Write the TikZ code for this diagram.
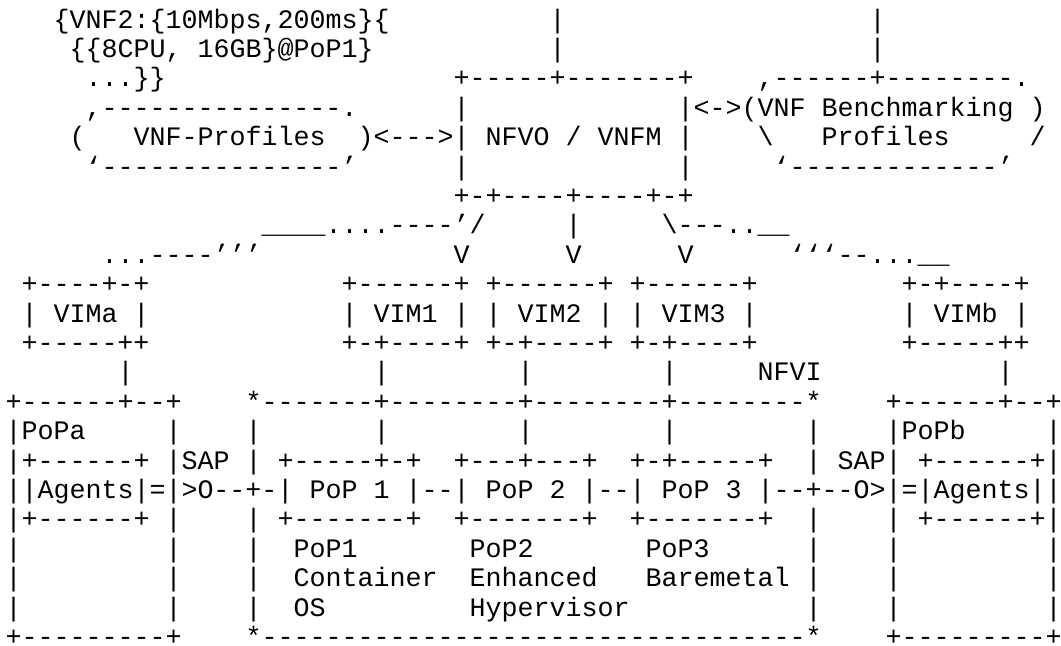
\documentclass[tikz,border=0pt]{standalone}
\usepackage{fontspec}
\setmonofont{Liberation Mono}
\tikzset{asc/.style={font=\ttfamily\fontsize{20}{20}\selectfont\frenchspacing, anchor=base west, inner sep=0pt, outer sep=0pt, text=black},
  flat/.style={text depth=0pt}}
\newcommand\Tx[4]{\node[asc] (#1) at ({5.5+16*(#3)},{28+29.4*((#2)-1)}) {#4};}
\newcommand\Tb[4]{\node[asc,flat] (#1) at ({5.5+16*(#3)},{28+29.4*((#2)-1)}) {#4};}
\begin{document}
\begin{tikzpicture}[x=0.75pt,y=-0.75pt]
\useasboundingbox (0,0) rectangle (1061,646);
% row 1
\Tx{r1a}{1}{3}{\{VNF2:\{10Mbps,200ms\}\{}
\Tx{r1b}{1}{34}{|}
\Tx{r1c}{1}{54}{|}
% row 2
\Tx{r2a}{2}{4}{\{\{8CPU, 16GB\}@PoP1\}}
\Tx{r2b}{2}{34}{|}
\Tx{r2c}{2}{54}{|}
% row 3
\Tx{r3a}{3}{5}{...\}\}}
\Tx{r3b}{3}{28}{+-----+-------+}
\Tx{r3c}{3}{47}{,------+--------.}
% row 4
\Tx{r4a}{4}{5}{,---------------.}
\Tx{r4b}{4}{28}{|}
\Tx{r4c}{4}{42}{|<->(VNF Benchmarking )}
% row 5
\Tx{r5a}{5}{4}{(}
\Tx{r5b}{5}{8}{VNF-Profiles}
\Tx{r5c}{5}{22}{)<--->| NFVO / VNFM |}
\Tx{r5d}{5}{47}{\textbackslash}
\Tx{r5e}{5}{51}{Profiles}
\Tx{r5f}{5}{64}{/}
% row 6
\Tx{r6a}{6}{5}{‘---------------’}
\Tx{r6b}{6}{28}{|}
\Tx{r6c}{6}{42}{|}
\Tx{r6d}{6}{48}{‘-------------’}
% row 7
\Tx{r7a}{7}{28}{+-+----+----+-+}
% row 8
\Tx{r8a}{8}{16}{\_\_\_\_....----’/}
\Tx{r8b}{8}{35}{|}
\Tx{r8c}{8}{41}{\textbackslash---..\_\_}
% row 9
\Tx{r9a}{9}{6}{...----’’’}
\Tx{r9b}{9}{28}{V}
\Tx{r9c}{9}{35}{V}
\Tx{r9d}{9}{42}{V}
\Tx{r9e}{9}{49}{‘‘‘--...\_\_}
% row 10
\Tx{r10a}{10}{1}{+----+-+}
\Tx{r10b}{10}{21}{+------+}
\Tx{r10c}{10}{30}{+------+}
\Tx{r10d}{10}{39}{+------+}
\Tx{r10e}{10}{56}{+-+----+}
% row 11
\Tx{r11a}{11}{1}{| VIMa |}
\Tx{r11b}{11}{21}{| VIM1 |}
\Tx{r11c}{11}{30}{| VIM2 |}
\Tx{r11d}{11}{39}{| VIM3 |}
\Tx{r11e}{11}{56}{| VIMb |}
% row 12
\Tx{r12a}{12}{1}{+-----++}
\Tx{r12b}{12}{21}{+-+----+}
\Tx{r12c}{12}{30}{+-+----+}
\Tx{r12d}{12}{39}{+-+----+}
\Tx{r12e}{12}{56}{+-----++}
% row 13
\Tx{r13a}{13}{7}{|}
\Tx{r13b}{13}{23}{|}
\Tx{r13c}{13}{32}{|}
\Tx{r13d}{13}{41}{|}
\Tx{r13e}{13}{47}{NFVI}
\Tx{r13f}{13}{62}{|}
% row 14
\Tx{r14a}{14}{0}{+------+--+}
\Tx{r14b}{14}{15}{*-------+--------+--------+--------*}
\Tx{r14c}{14}{55}{+------+--+}
% row 15
\Tx{r15a}{15}{0}{|PoPa}
\Tx{r15b}{15}{10}{|}
\Tx{r15c}{15}{15}{|}
\Tx{r15d}{15}{23}{|}
\Tx{r15e}{15}{32}{|}
\Tx{r15f}{15}{41}{|}
\Tx{r15g}{15}{50}{|}
\Tx{r15h}{15}{55}{|PoPb}
\Tx{r15i}{15}{65}{|}
% row 16
\Tx{r16a}{16}{0}{|+------+}
\Tx{r16b}{16}{10}{|SAP}
\Tx{r16c}{16}{15}{|}
\Tx{r16d}{16}{17}{+-----+-+}
\Tx{r16e}{16}{28}{+---+---+}
\Tx{r16f}{16}{39}{+-+-----+}
\Tx{r16g}{16}{50}{|}
\Tx{r16h}{16}{52}{SAP|}
\Tx{r16i}{16}{57}{+------+|}
% row 17
\Tx{r17a}{17}{0}{||Agents|=|>O--+-|}
\Tx{r17b}{17}{19}{PoP 1 |--|}
\Tx{r17c}{17}{30}{PoP 2 |--|}
\Tx{r17d}{17}{41}{PoP 3 |--+--O>|=|Agents||}
% row 18
\Tx{r18a}{18}{0}{|+------+}
\Tx{r18b}{18}{10}{|}
\Tx{r18c}{18}{15}{|}
\Tx{r18d}{18}{17}{+-------+}
\Tx{r18e}{18}{28}{+-------+}
\Tx{r18f}{18}{39}{+-------+}
\Tx{r18g}{18}{50}{|}
\Tx{r18h}{18}{55}{|}
\Tx{r18i}{18}{57}{+------+|}
% row 19
\Tx{r19a}{19}{0}{|}
\Tx{r19b}{19}{10}{|}
\Tx{r19c}{19}{15}{|}
\Tx{r19d}{19}{18}{PoP1}
\Tx{r19e}{19}{29}{PoP2}
\Tx{r19f}{19}{40}{PoP3}
\Tx{r19g}{19}{50}{|}
\Tx{r19h}{19}{55}{|}
\Tx{r19i}{19}{65}{|}
% row 20
\Tx{r20a}{20}{0}{|}
\Tx{r20b}{20}{10}{|}
\Tx{r20c}{20}{15}{|}
\Tx{r20d}{20}{18}{Container}
\Tx{r20e}{20}{29}{Enhanced}
\Tx{r20f}{20}{40}{Baremetal |}
\Tx{r20g}{20}{55}{|}
\Tx{r20h}{20}{65}{|}
% row 21
\Tx{r21a}{21}{0}{|}
\Tx{r21b}{21}{10}{|}
\Tx{r21c}{21}{15}{|}
\Tx{r21d}{21}{18}{OS}
\Tx{r21e}{21}{29}{Hypervisor}
\Tx{r21f}{21}{50}{|}
\Tx{r21g}{21}{55}{|}
\Tx{r21h}{21}{65}{|}
% row 22
\Tb{r22a}{22}{0}{+---------+}
\Tb{r22b}{22}{15}{*----------------------------------*}
\Tb{r22c}{22}{55}{+---------+}
\end{tikzpicture}
\end{document}
